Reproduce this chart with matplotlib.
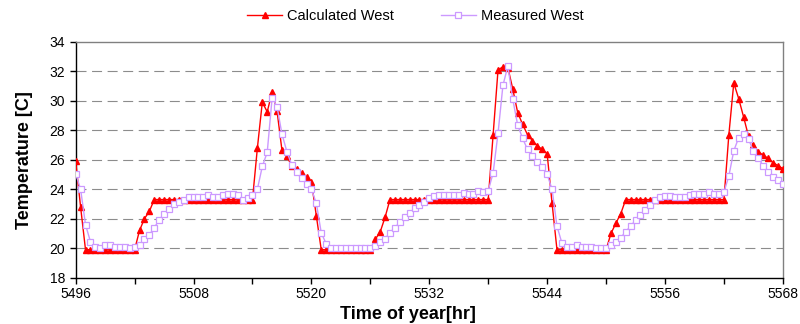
import matplotlib
matplotlib.use("Agg")
import matplotlib.pyplot as plt
from matplotlib.ticker import MultipleLocator
import numpy as np

plt.rcParams['font.family'] = ['Liberation Sans', 'DejaVu Sans']

start_hour = 5496
step_hr = 0.5

calculated_west = [
    25.9, 22.8, 19.9, 19.9, 19.9, 19.9, 19.9, 19.9, 19.9, 19.9, 19.9, 19.9, 19.9,
    21.2, 22.0, 22.5,
    23.3, 23.3, 23.3, 23.3, 23.3, 23.3, 23.3, 23.3, 23.3, 23.3, 23.3, 23.3, 23.3,
    23.3, 23.3, 23.3, 23.3, 23.3, 23.3, 23.3, 23.3,
    26.8, 29.9, 29.25, 30.6, 29.3, 26.65, 26.25, 25.55, 25.4, 25.1, 24.85, 24.5,
    22.2,
    19.9, 19.9, 19.9, 19.9, 19.9, 19.9, 19.9, 19.9, 19.9, 19.9, 19.9,
    20.6, 21.1, 22.1,
    23.3, 23.3, 23.3, 23.3, 23.3, 23.3, 23.3, 23.3, 23.3, 23.3, 23.3, 23.3, 23.3,
    23.3, 23.3, 23.3, 23.3, 23.3, 23.3, 23.3, 23.3,
    27.7, 32.1, 32.3, 32.25, 30.8, 29.2, 28.4, 27.7, 27.3, 26.95, 26.7, 26.4,
    23.05,
    19.9, 19.9, 19.9, 19.9, 19.9, 19.9, 19.9, 19.9, 19.9, 19.9, 19.9,
    21.0, 21.7, 22.35,
    23.3, 23.3, 23.3, 23.3, 23.3, 23.3, 23.3, 23.3, 23.3, 23.3, 23.3, 23.3, 23.3,
    23.3, 23.3, 23.3, 23.3, 23.3, 23.3, 23.3, 23.3,
    27.7, 31.2, 30.15, 28.9, 27.6, 27.0, 26.55, 26.3, 26.1, 25.8, 25.6, 25.4,
]

measured_west = [
    25.05, 24.0, 21.6, 20.45, 20.1, 20.0, 20.2, 20.2, 20.1, 20.1, 20.05, 20.0, 20.1,
    20.2, 20.6, 20.9, 21.4, 21.9, 22.35, 22.65, 23.0, 23.15, 23.3, 23.45, 23.5,
    23.5, 23.5, 23.6, 23.5, 23.5, 23.6, 23.7, 23.7, 23.6, 23.3, 23.4, 23.6,
    24.0, 25.55, 26.5, 30.2, 29.6, 27.75, 26.55, 25.65, 25.2, 24.75, 24.35, 24.0,
    23.05, 21.05, 20.3, 20.0, 20.0, 20.0, 20.0, 20.0, 20.0, 20.0, 20.0, 20.0,
    20.15, 20.4, 20.65, 21.05, 21.4, 21.75, 22.1, 22.4, 22.7, 22.95, 23.15, 23.4,
    23.55, 23.6, 23.6, 23.6, 23.6, 23.6, 23.75, 23.7, 23.7, 23.9, 23.8, 23.9,
    25.1, 27.8, 31.05, 32.35, 30.1, 28.35, 27.45, 26.7, 26.25, 25.85, 25.5, 25.0,
    24.0, 21.5, 20.35, 20.1, 20.1, 20.2, 20.1, 20.1, 20.1, 20.0, 20.0, 20.0,
    20.2, 20.45, 20.72, 21.12, 21.5, 21.9, 22.28, 22.6, 22.95, 23.25, 23.5,
    23.55, 23.55, 23.5, 23.5, 23.5, 23.6, 23.7, 23.7, 23.7, 23.8, 23.7, 23.7, 23.8,
    24.9, 26.6, 27.5, 27.75, 27.4, 26.6, 26.1, 25.6, 25.2, 24.85, 24.6, 24.35,
]

x_calc = start_hour + step_hr * np.arange(len(calculated_west))
x_meas = start_hour + step_hr * np.arange(len(measured_west))

fig = plt.figure(figsize=(8.0, 3.24), dpi=100)
ax = fig.add_axes([0.0946, 0.143, 0.884, 0.728])

for yv in range(20, 34, 2):
    ax.axhline(yv, color='#8c8c8c', lw=0.8, ls=(0, (9, 5)), zorder=0)

ax.plot(x_calc, calculated_west, color='#FF0000', lw=1.0, marker='^',
        markersize=4.5, markerfacecolor='#FF0000', markeredgecolor='#FF0000',
        label='Calculated West', zorder=3)
ax.plot(x_meas, measured_west, color='#CC99FF', lw=1.0, marker='s',
        markersize=3.8, markerfacecolor='white', markeredgecolor='#CC99FF',
        markeredgewidth=0.9, label='Measured West', zorder=4)

ax.set_xlim(5496, 5568)
ax.set_ylim(18, 34)
ax.xaxis.set_major_locator(MultipleLocator(12))
ax.xaxis.set_minor_locator(MultipleLocator(6))
ax.yaxis.set_major_locator(MultipleLocator(2))
ax.tick_params(axis='both', which='both', direction='out', length=4, width=1,
               labelsize=10, color='black')
ax.tick_params(axis='x', pad=3)

for s in ['top', 'right']:
    ax.spines[s].set_color('#808080')
    ax.spines[s].set_linewidth(1.0)
for s in ['left', 'bottom']:
    ax.spines[s].set_color('black')
    ax.spines[s].set_linewidth(1.0)

ax.set_xlabel('Time of year[hr]', fontsize=13, fontweight='bold', labelpad=0)
ax.xaxis.set_label_coords(0.47, -0.12)
ax.set_ylabel('Temperature [C]', fontsize=13, fontweight='bold', labelpad=12)

fig.legend(loc='center', bbox_to_anchor=(0.519, 0.95), ncol=2, frameon=False,
           fontsize=10.5, handlelength=2.4, columnspacing=3.2, handletextpad=0.35)

fig.savefig('out.png', dpi=100)
